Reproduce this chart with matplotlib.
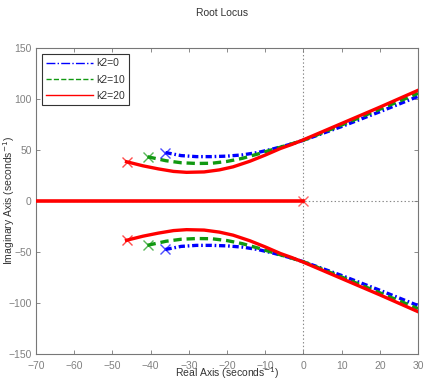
import matplotlib
matplotlib.use('Agg')
import matplotlib.pyplot as plt
from matplotlib.lines import Line2D
import numpy as np

plt.rcParams['font.family'] = ['Liberation Sans', 'DejaVu Sans']
plt.rcParams['lines.scale_dashes'] = False

# upper branches (lower branches are the mirror image)
k0_x = [-36.1, -32, -28, -24, -20, -16, -12, -8, -4, 0, 10, 20, 30]
k0_y = [47.5, 44.5, 43.5, 43.5, 44, 45.2, 47.5, 51, 55, 59.5, 73, 87.5, 102.5]

k10_x = [-40.8, -36, -32, -28, -24, -20, -16, -12, -8, -4, 0, 10, 20, 30]
k10_y = [43.4, 39.5, 37.5, 36.8, 37, 38.8, 41.8, 46, 50.5, 55, 59.5, 74.5, 90, 105.5]

k20_x = [-46.3, -42, -38, -34, -30.6, -26, -22, -18.4, -14, -10, -6, -3, 0, 10, 20, 30]
k20_y = [38.5, 34.5, 31.5, 29, 28.1, 28.5, 30.5, 33.5, 39, 45, 51.5, 55.5, 60, 76, 92, 108.5]

real_x = [-70, 0]
labels = ['k2=0', 'k2=10', 'k2=20']
colors = ['#0000ff', '#119911', '#ff0000']
dashes = [(4.5, 2, 1.2, 2), (6, 3.5), None]

fig = plt.figure(figsize=(4.26, 3.8), dpi=100)
ax = fig.add_axes([36/426, 26/380, 382/426, 306/380])

ax.axvline(0, color='#888888', ls=':', lw=0.8, zorder=1)
ax.axhline(0, color='#888888', ls=':', lw=0.8, zorder=1)

series = [(k0_x, k0_y), (k10_x, k10_y), (k20_x, k20_y)]
for (xs, ys), c, d in zip(series, colors, dashes):
    xs = np.array(xs)
    ys = np.array(ys)
    for sgn in (1, -1):
        ln, = ax.plot(xs, sgn * ys, color=c, lw=2.4, zorder=3)
        if d is not None:
            ln.set_dashes(d)
        ax.plot(xs[0], sgn * ys[0], 'x', color=c, ms=7, mew=1, alpha=0.7, zorder=4)

ax.plot(real_x, [0, 0], color='#ff0000', lw=2.6, zorder=3)
ax.plot(real_x[-1], 0, 'x', color='#ff0000', ms=7, mew=1, alpha=0.6, zorder=4)

ax.set_xlim(-70, 30)
ax.set_ylim(-150, 150)
ax.set_xticks(range(-70, 31, 10))
ax.set_yticks(range(-150, 151, 50))
ax.tick_params(direction='in', top=True, right=True, length=3, width=0.6,
               color='#777777', labelcolor='#808080', labelsize=7.5)
ax.tick_params(axis='x', pad=5)
ax.tick_params(axis='y', pad=3)
for s in ax.spines.values():
    s.set_color('#777777')
    s.set_linewidth(0.8)

ax.set_xlabel('Real Axis (seconds$^{-1}$)', fontsize=7.5, color='#333333')
ax.set_ylabel('Imaginary Axis (seconds$^{-1}$)', fontsize=7.5, color='#333333')
ax.xaxis.set_label_coords(0.5, -0.036)
ax.yaxis.set_label_coords(-0.05, 0.5)
fig.text(0.521, 1 - 13/380, 'Root Locus', ha='center', va='center', fontsize=7.5, color='#333333')

handles = [Line2D([], [], color=colors[0], lw=1, ls='-.'),
           Line2D([], [], color=colors[1], lw=1, ls='--'),
           Line2D([], [], color=colors[2], lw=1, ls='-')]
leg = ax.legend(handles, labels, loc='upper left', fontsize=7.5, fancybox=False,
                edgecolor='#333333', framealpha=1, borderaxespad=0.6,
                handlelength=4.5, handletextpad=0.3, labelspacing=0.6)
leg.get_frame().set_linewidth(0.8)
for t in leg.get_texts():
    t.set_color('#333333')

fig.savefig('out.png', dpi=100)
